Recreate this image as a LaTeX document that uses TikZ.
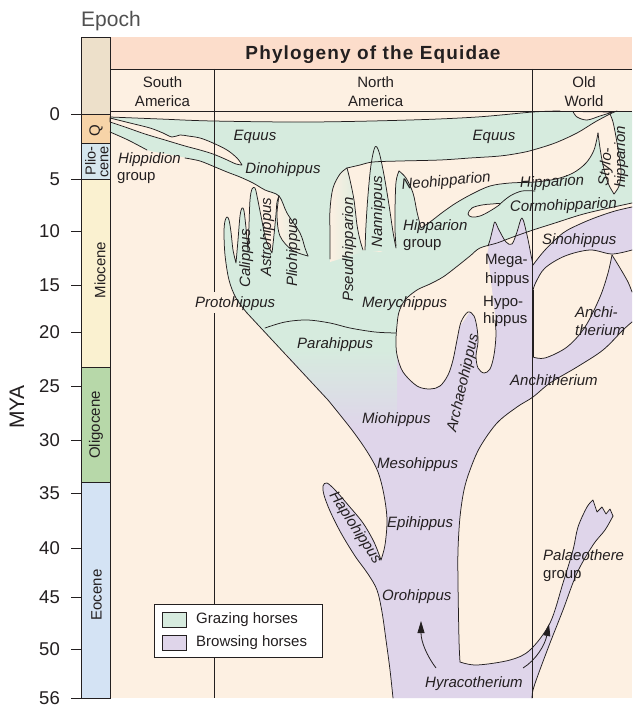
\documentclass[tikz,border=0pt]{standalone}
\usepackage{fontspec}
\setmainfont{Liberation Sans}
\usetikzlibrary{arrows.meta}
\definecolor{bgc}{RGB}{253,240,226}
\definecolor{hdr}{RGB}{252,221,203}
\definecolor{eptop}{RGB}{237,224,202}
\definecolor{qcol}{RGB}{247,212,168}
\definecolor{plio}{RGB}{214,231,238}
\definecolor{mio}{RGB}{250,241,208}
\definecolor{oligo}{RGB}{183,216,169}
\definecolor{eoc}{RGB}{212,227,244}
\definecolor{graz}{RGB}{214,235,222}
\definecolor{brow}{RGB}{223,213,234}
\definecolor{ink}{RGB}{35,31,32}
\definecolor{epg}{RGB}{80,80,80}
\tikzset{
  ol/.style={draw=ink, line width=0.75pt, line join=round, line cap=round},
  it/.style={font=\fontsize{15}{17}\selectfont\itshape, text=ink, inner sep=0pt},
  up/.style={font=\fontsize{15}{17}\selectfont, text=ink, inner sep=0pt},
  ticklbl/.style={font=\fontsize{18.5}{20}\selectfont, text=ink, inner sep=0pt, anchor=east},
  sm/.style={smooth, tension=0.55},
}
\begin{document}
\begin{tikzpicture}[x=1pt,y=-1pt]
\useasboundingbox (0,0) rectangle (632,709);
\fill[white] (0,0) rectangle (632,709);
% panel
\fill[bgc] (110,37) rectangle (632,698);
\fill[hdr] (110,37) rectangle (632,69);
% epoch column
\fill[eptop] (81,37) rectangle (110,114);
\fill[qcol] (81,114) rectangle (110,143);
\fill[plio] (81,143) rectangle (110,179);
\fill[mio] (81,179) rectangle (110,367);
\fill[oligo] (81,367) rectangle (110,482);
\fill[eoc] (81,482) rectangle (110,698);

% ---------- grazing region ----------
\fill[graz]
 plot[sm] coordinates {(110,117) (160,119) (213,121) (310,122) (410,120) (477,117) (533,112) (560,111)}
 -- (632,111) -- (632,203)
 -- plot[sm] coordinates {(632,203) (600,210) (580,215) (555,223) (533,230) (513,237) (497,243) (480,248) (470,256) (455,268) (443,277) (430,284) (417,290) (405,300) (399,312) (397,325) (396,345)}
 -- (396,352) -- (283,352) -- (247,313)
 -- plot[sm] coordinates {(247,313) (236,298) (229,280) (225,255) (224,232) (225,221) (227,217) (229,220) (231,232) (233,250) (236,263)}
 -- plot[sm] coordinates {(236,263) (238,240) (240,216) (242,208) (244,211) (246,228) (248,251)}
 -- plot[sm] coordinates {(248,251) (249,225) (250,200) (252,189) (255,188) (257,196) (261,216) (266,240) (272,253)}
 -- plot[sm] coordinates {(272,253) (274,235) (276,214) (277,202) (279,196)}
 -- plot[sm] coordinates {(279,196) (265,190) (253,183) (240,177) (227,172) (215,167) (200,161) (187,158) (167,154) (147,150) (128,140) (110,132)}
 -- cycle;

% ---------- browsing region ----------
\fill[brow]
 plot[sm] coordinates {(393,698) (390,670) (386,640) (382,612) (377,590) (368,574) (355,556) (341,533) (330,511) (324,495) (323,486) (327,483) (336,491) (349,506) (363,523) (374,542) (381,560)}
 -- plot[sm] coordinates {(381,560) (385,545) (387,520) (384,495) (378,472) (368,453) (352,430) (328,400)}
 -- (287,356) -- (440,356) -- (478,300) -- (487,255)
 -- plot[sm] coordinates {(487,255) (490,240) (493,228) (495,222) (499,230) (506,242) (512,244) (517,232) (522,218) (527,235) (531,255) (533,265)}
 -- plot[sm] coordinates {(533,265) (545,250) (563,233) (580,224) (597,217) (615,211) (632,207)}
 -- (632,250)
 -- plot[sm] coordinates {(632,250) (612,254) (590,250) (565,256) (545,268) (536,282) (533,290)}
 -- (533,357)
 -- plot[sm] coordinates {(533,357) (545,358) (567,347) (585,327) (600,297) (608,273) (612,255)}
 -- plot[sm] coordinates {(612,255) (620,268) (628,282) (632,292)}
 -- (632,322)
 -- plot[sm] coordinates {(632,322) (623,330) (603,350) (577,367) (550,383) (533,397) (517,407) (497,423) (480,447) (470,470) (464,490) (460,517) (458,550) (458,583) (459,640) (460,662)}
 -- plot[sm] coordinates {(460,662) (477,665) (510,660) (530,650) (550,623) (563,583) (573,550) (578,527) (587,507) (593,500)}
 -- (597,512) -- (602,507) -- (606,514) -- (610,509) -- (613,516)
 -- plot[sm] coordinates {(613,516) (605,530) (593,545) (577,573) (563,610) (550,643) (538,675) (533,690) (532,698)}
 -- cycle;
\fill[bgc] (612,255) -- plot[sm] coordinates {(612,255) (620,268) (628,282) (632,292)} -- (632,252) -- cycle;

% gradient zone
\shade[top color=graz, bottom color=brow]
 (283,350) -- (397,350) -- (397,428) -- (352,428)
 -- plot[sm] coordinates {(352,428) (340,414) (328,400)} -- cycle;

% ---------- cream holes ----------
\fill[bgc] plot[sm] coordinates {(480,248) (470,256) (455,268) (443,277) (430,284) (417,290) (405,300) (399,312) (397,325) (396,340) (397,355) (403,372) (417,386) (430,389) (440,386) (448,375) (453,360) (457,340) (461,322) (468,312) (474,316) (477,328) (478,342) (476,356) (478,368) (484,373) (490,369) (494,355) (496,335) (495,315) (492,290) (489,265) (486,252)} -- cycle;
\fill[bgc]
 plot[sm] coordinates {(347,168) (360,165) (373,162) (400,161) (440,160) (470,158) (500,156) (520,153) (533,150) (555,143) (577,133) (595,122) (610,114)}
 -- plot[sm] coordinates {(610,114) (613,122) (616,137) (619,155) (621,172) (619,186) (614,194)}
 -- plot[sm] coordinates {(614,194) (608,183) (603,165) (600,148) (598,133)}
 -- plot[sm] coordinates {(598,133) (594,150) (586,163) (573,173) (556,179) (535,182) (510,183) (490,186) (472,194) (456,203) (443,212) (430,222) (421,228)}
 -- plot[sm] coordinates {(421,228) (417,212) (413,193) (406,178) (399,171)}
 -- plot[sm] coordinates {(399,171) (396,182) (395,210) (395,230) (396,246)}
 -- (380,252) -- (363,250)
 -- plot[sm] coordinates {(363,250) (360,240) (357,225) (354,200) (350,180) (347,168)} -- cycle;
\fill[graz] plot[sm] coordinates {(365,252) (366,225) (368,195) (371,165) (375,147) (379,152) (384,175) (389,205) (393,232) (396,250)} -- cycle;
\shade[left color=bgc, right color=graz] plot[sm] coordinates {(330,262) (330,235) (330,210) (333,188) (340,174) (347,168) (350,180) (354,200) (357,225) (360,240) (363,252)} -- cycle;
\shade[left color=bgc, right color=graz] plot[sm] coordinates {(279,196) (277,215) (280,236) (292,250) (308,256)} -- plot[sm] coordinates {(308,256) (305,248) (300,233) (287,213) (279,196)} -- cycle;
\filldraw[fill=bgc, ol] plot[smooth cycle, tension=0.6] coordinates {(468,214) (472,208) (482,205) (492,204) (500,204) (490,211) (480,216) (472,217)};
\filldraw[fill=bgc, ol] plot[sm] coordinates {(573,111.5) (577,117) (587,120) (600,116) (613,112)} -- cycle;
\filldraw[fill=bgc, ol] plot[sm] coordinates {(110,118) (130,123) (150,128) (163,133) (172,137) (180,135) (188,136) (200,138) (213,143) (227,150) (237,158) (242,165)} -- plot[sm] coordinates {(242,165) (236,164) (225,159) (213,154) (200,150) (185,146) (165,140) (145,134) (125,127) (110,122)} -- cycle;

% ---------- outlines ----------
\draw[ol] plot[sm] coordinates {(110,117) (160,119) (213,121) (310,122) (410,120) (477,117) (533,112) (560,111)};
\draw[ol] plot[sm] coordinates {(632,203) (600,210) (580,215) (555,223) (533,230) (513,237) (497,243) (480,248) (470,256) (455,268) (443,277) (430,284) (417,290) (405,300) (399,312) (397,325) (396,340) (397,355) (403,372) (417,386) (430,389) (440,386) (448,375) (453,360) (457,340) (461,322) (468,312) (474,316) (477,328) (478,342) (476,356) (478,368) (484,373) (490,369) (494,355) (496,335) (495,320)};
\draw[ol] plot[sm] coordinates {(265,328) (285,322) (307,320) (330,323) (350,328) (375,332) (396,333)};
\draw[ol] plot[sm] coordinates {(247,313) (236,298) (229,280) (225,255) (224,232) (225,221) (227,217) (229,220) (231,232) (233,250) (236,263)}
 -- plot[sm] coordinates {(236,263) (238,240) (240,216) (242,208) (244,211) (246,228) (248,251)}
 -- plot[sm] coordinates {(248,251) (249,225) (250,200) (252,189) (255,188) (257,196) (261,216) (266,240) (272,253)}
 -- plot[sm] coordinates {(272,253) (274,235) (276,214) (277,202) (279,196)};
\draw[ol] plot[sm] coordinates {(110,132) (128,140) (147,150)};
\draw[ol] plot[sm] coordinates {(185,158) (200,161) (215,167) (227,172) (240,177) (253,183) (265,190) (279,196) (287,213) (300,233) (305,248) (308,256)};
\draw[ol] plot[sm] coordinates {(279,196) (277,215) (280,236) (292,250) (308,256)};
\draw[ol] plot[sm] coordinates {(347,168) (360,165) (373,162) (400,161) (440,160) (470,158) (500,156) (520,153) (533,150) (555,143) (577,133) (595,122) (610,114) (617,111)};
\draw[ol] plot[sm] coordinates {(610,114) (613,122) (616,137) (619,155) (621,172) (619,186) (614,194)};
\draw[ol] plot[sm] coordinates {(614,194) (608,183) (603,165) (600,148) (598,133)};
\draw[ol] plot[sm] coordinates {(598,133) (594,150) (586,163) (573,173) (556,179) (535,182) (510,183) (490,186) (472,194) (456,203) (443,212) (430,222) (421,228)};
\draw[ol] plot[sm] coordinates {(421,228) (417,212) (413,193) (406,178) (399,171)};
\draw[ol] plot[sm] coordinates {(399,171) (396,182) (395,210) (395,230) (396,246)};
\draw[ol] plot[sm] coordinates {(363,250) (360,240) (357,225) (354,200) (350,180) (347,168)};
\draw[ol] plot[sm] coordinates {(365,250) (366,225) (368,195) (371,165) (375,147) (379,152) (384,175) (389,205) (393,232) (396,248)};
\draw[ol] plot[sm] coordinates {(330,259) (330,235) (330,210) (333,188) (340,174) (347,168)};
\draw[ol] plot[sm] coordinates {(500,204) (510,196) (522,191) (535,191)};
\draw[ol] plot[sm] coordinates {(393,698) (390,670) (386,640) (382,612) (377,590) (368,574) (355,556) (341,533) (330,511) (324,495) (323,486) (327,483) (336,491) (349,506) (363,523) (374,542) (381,560)};
\draw[ol] plot[sm] coordinates {(381,560) (385,545) (387,520) (384,495) (378,472) (368,453) (352,430) (328,400)} -- (247,313);
\draw[ol] plot[sm] coordinates {(488,246) (490,240) (493,228) (495,222) (499,230) (506,242) (512,244) (517,232) (522,218) (527,235) (531,255) (533,265)};
\draw[ol] plot[sm] coordinates {(533,265) (545,250) (563,233) (580,224) (597,217) (615,211) (632,207)};
\draw[ol] plot[sm] coordinates {(632,250) (612,254) (590,250) (565,256) (545,268) (536,282) (533,290)};
\draw[ol] plot[sm] coordinates {(533,357) (545,358) (567,347) (585,327) (600,297) (608,273) (612,255)};
\draw[ol] plot[sm] coordinates {(612,255) (620,268) (628,282) (632,292)};
\draw[ol] plot[sm] coordinates {(632,322) (623,330) (603,350) (577,367) (550,383) (533,397) (517,407) (497,423) (480,447) (470,470) (464,490) (460,517) (458,550) (458,583) (459,640) (460,662)};
\draw[ol] plot[sm] coordinates {(460,662) (477,665) (510,660) (530,650) (550,623) (563,583) (573,550) (578,527) (587,507) (593,500)}
 -- (597,512) -- (602,507) -- (606,514) -- (610,509) -- (613,516);
\draw[ol] plot[sm] coordinates {(613,516) (605,530) (593,545) (577,573) (563,610) (550,643) (538,675) (533,690) (532,698)};

% ---------- frame lines ----------
\draw[ink, line width=0.8pt] (110,69) -- (632,69);
\draw[ink, line width=0.8pt] (110,111) -- (632,111);
\draw[ink, line width=0.7pt] (214.7,69) -- (214.7,292);
\draw[ink, line width=0.7pt] (214.7,313) -- (214.7,698);
\draw[ink, line width=0.7pt] (532.7,69) -- (532.7,698);
\draw[ink, line width=1.4pt] (533,290) -- (533,357);
\draw[ink, line width=0.8pt] (81,37) rectangle (110,698);
\foreach \yy in {114,143,179,367,482} \draw[ink, line width=0.8pt] (81,\yy) -- (110,\yy);
\foreach \v/\yy in {0/114,5/179,10/231,15/285,20/332,25/386,30/440,35/493,40/548,45/597,50/649,56/698}{
  \draw[ink, line width=0.8pt] (71,\yy) -- (81,\yy);
  \node[ticklbl] (t\v) at (60,\yy) {\v};
}

% ---------- arrows ----------
\coordinate (a1s) at (436,668);
\coordinate (a1e) at (421,621);
\coordinate (a2s) at (523,668);
\coordinate (a2e) at (549,624);
\draw[ink, line width=0.8pt, -{Triangle[length=12pt,width=7pt]}] (a1s) .. controls (427,656) and (421,642) .. (a1e);
\draw[ink, line width=0.8pt, -{Triangle[length=12pt,width=7pt]}] (a2s) .. controls (536,660) and (545,645) .. (a2e);

% ---------- header texts ----------
\node[font=\fontsize{21}{23}\selectfont, text=epg, inner sep=0pt, anchor=base west] (epoch) at (81,27) {Epoch};
\node[font=\fontsize{19}{21}\selectfont\bfseries\addfontfeature{LetterSpace=6}, text=ink, inner sep=0pt, anchor=base] (title) at (373,59.3) {Phylogeny of the Equidae};
\node[up, anchor=base] (sa1) at (162.5,87) {South};
\node[up, anchor=base] (sa2) at (162.5,106) {America};
\node[up, anchor=base] (na1) at (375.7,87) {North};
\node[up, anchor=base] (na2) at (375.7,106) {America};
\node[up, anchor=base] (ow1) at (584,87) {Old};
\node[up, anchor=base] (ow2) at (584,106) {World};
\node[font=\fontsize{21}{23}\selectfont, text=ink, inner sep=0pt, rotate=90] (mya) at (17,407) {MYA};
\node[up, rotate=90] (qq) at (96,130.5) {Q};
\node[font=\fontsize{14.5}{16}\selectfont, text=ink, inner sep=0pt, rotate=90] (pl1) at (90.5,161) {Plio-};
\node[font=\fontsize{14.5}{16}\selectfont, text=ink, inner sep=0pt, rotate=90] (pl2) at (104.5,162) {cene};
\node[up, rotate=90] (mioc) at (100,270) {Miocene};
\node[up, rotate=90] (olig) at (96,425) {Oligocene};
\node[up, rotate=90] (eocn) at (96.5,595) {Eocene};

% ---------- taxon labels ----------
\node[it, anchor=base] (equ1) at (255,140) {Equus};
\node[it, anchor=base] (equ2) at (494,140) {Equus};
\node[it, anchor=base] (dino) at (283,173) {Dinohippus};
\node[it, anchor=base west] (hipp1) at (118,163) {Hippidion};
\node[up, anchor=base west] (hipp2) at (117,180) {group};
\node[it, anchor=base west, rotate=5.5] (neoh) at (402,190) {Neohipparion};
\node[it, anchor=base west, rotate=2.5] (hipow) at (520,188) {Hipparion};
\node[it, anchor=base west, rotate=2] (cormo) at (510,212) {Cormohipparion};
\node[it, anchor=base west, rotate=84] (sty1) at (608,187) {Stylo-};
\node[it, anchor=base west, rotate=90] (sty2) at (625,188) {hipparion};
\node[it, anchor=base west] (hipg1) at (403,230) {Hipparion};
\node[up, anchor=base west] (hipg2) at (403,247) {group};
\node[it, anchor=base west, rotate=90] (pseu) at (353,302) {Pseudhipparion};
\node[it, anchor=base west, rotate=90] (nann) at (382,248) {Nannippus};
\node[it, anchor=base west, rotate=90] (cali) at (250,288) {Calippus};
\node[it, anchor=base west, rotate=90] (astr) at (271,277) {Astrohippus};
\node[it, anchor=base west, rotate=90] (plio) at (297,287) {Pliohippus};
\node[it, anchor=base west] (prot) at (195,307) {Protohippus};
\node[it, anchor=base west] (para) at (297,348) {Parahippus};
\node[it, anchor=base west] (mery) at (362,307) {Merychippus};
\node[up, anchor=base west] (mega1) at (485,264) {Mega-};
\node[up, anchor=base west] (mega2) at (485,283) {hippus};
\node[up, anchor=base west] (hypo1) at (483,306) {Hypo-};
\node[up, anchor=base west] (hypo2) at (483,323) {hippus};
\node[it, anchor=base west] (sino) at (542,244) {Sinohippus};
\node[it, anchor=base west] (anc1) at (575,317) {Anchi-};
\node[it, anchor=base west] (anc2) at (575,335) {therium};
\node[it, anchor=base west] (anc3) at (510,385) {Anchitherium};
\node[it, anchor=base west, rotate=77] (arch) at (456,433) {Archaeohippus};
\node[it, anchor=base west] (mioh) at (362,423) {Miohippus};
\node[it, anchor=base west] (meso) at (377,468) {Mesohippus};
\node[it, anchor=base west] (epih) at (387,527) {Epihippus};
\node[it, anchor=base west, rotate=-57] (hapl) at (329,495) {Haplohippus};
\node[it, anchor=base west] (oroh) at (382,600) {Orohippus};
\node[it, anchor=base west] (pal1) at (543,560) {Palaeothere};
\node[up, anchor=base west] (pal2) at (543,578) {group};
\node[it, anchor=base west] (hyra) at (425,687) {Hyracotherium};

% ---------- legend ----------
\draw[ink, line width=0.8pt, fill=white] (154,604) rectangle (322,657);
\draw[ink, line width=0.8pt, fill=graz] (162,612) rectangle (186,627);
\draw[ink, line width=0.8pt, fill=brow] (162,635) rectangle (186,650);
\node[up, anchor=west] (lg1) at (196,619.5) {Grazing horses};
\node[up, anchor=west] (lg2) at (196,643) {Browsing horses};
\end{tikzpicture}
\end{document}
